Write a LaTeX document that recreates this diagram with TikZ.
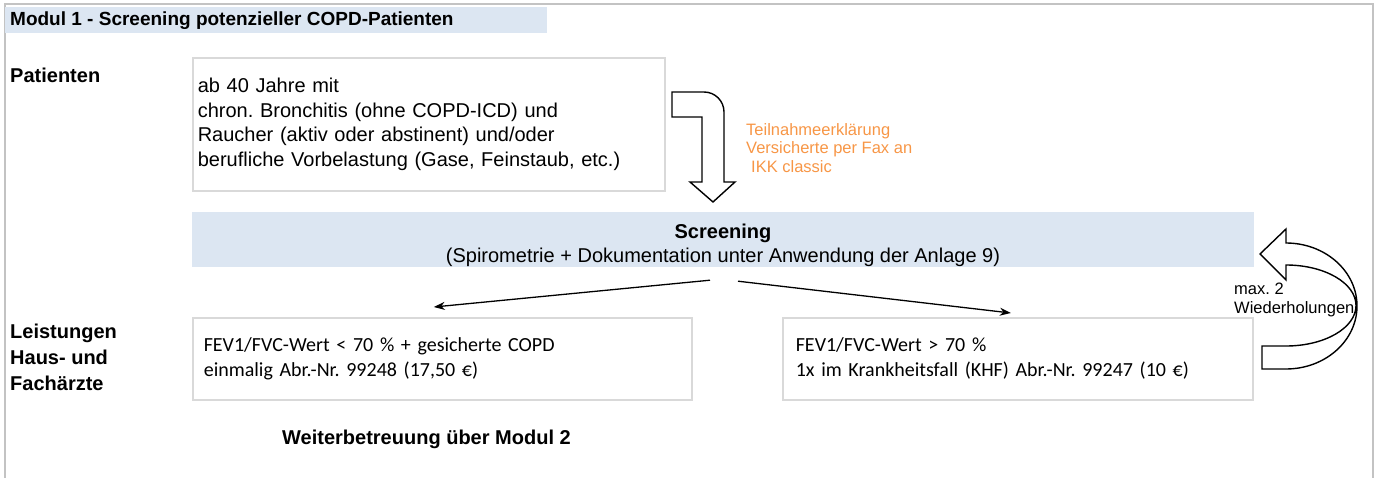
\documentclass[tikz,border=0pt]{standalone}
\usepackage{fontspec}
\setmainfont{Liberation Sans}
\newfontfamily\calibfont{Carlito}
\usetikzlibrary{arrows.meta}
\definecolor{bandblue}{HTML}{DCE6F2}
\definecolor{framegray}{HTML}{C3C3C3}
\definecolor{boxgray}{HTML}{D9D9D9}
\definecolor{orangetxt}{HTML}{F79646}
\frenchspacing
\begin{document}
\frenchspacing
\begin{tikzpicture}[x=1pt,y=-1pt,
  band/.style={fill=bandblue, draw=none, inner sep=0pt},
  txtnw/.style={anchor=north west, inner sep=0pt, align=left},
  txtb/.style={anchor=base west, inner sep=0pt},
  lbl/.style={font=\bfseries\fontsize{20}{26}\selectfont},
  body/.style={font=\fontsize{20}{24.5}\selectfont},
  fev/.style={font=\calibfont\fontsize{20}{25}\selectfont},
  small/.style={font=\fontsize{16.5}{18.6}\selectfont},
  infobox/.style={draw=boxgray, line width=1.6pt, fill=white, anchor=north west, align=left},
  conn/.style={line width=1.3pt, -{Stealth[length=11pt,width=8pt]}},
  blockarrow/.style={draw=black, line width=1.4pt, fill=white, line join=miter}
]
\useasboundingbox (0,0) rectangle (1378,478);
% frame
\draw[framegray, line width=2.5pt] (5,478) -- (5,4) -- (1373,4) -- (1373,478);
% header
\node[band, anchor=north west, minimum width=542pt, minimum height=26pt] (hdband) at (5,7) {};
\node[txtb, font=\bfseries\fontsize{19}{24}\selectfont] (hd) at (10,26) {Modul 1 - Screening potenzieller COPD-Patienten};
% left labels
\node[txtb, lbl] (patlbl) at (10,83) {Patienten};
\node[txtnw, lbl] (leistlbl) at (10,323.7) {Leistungen\\Haus- und\\Fachärzte};
% patient box
\node[infobox, body, text width=462pt, inner xsep=5pt, inner ysep=0pt, minimum height=133pt] (pat) at (192,57)
  {ab 40 Jahre mit\\chron. Bronchitis (ohne COPD-ICD) und\\Raucher (aktiv oder abstinent) und/oder\\berufliche Vorbelastung (Gase, Feinstaub, etc.)};
% bent block arrow
\draw[blockarrow] (672,92) -- (704,92) arc[start angle=90, end angle=0, radius=20pt]
  -- (724,182) -- (735,182) -- (713,202) -- (690,182) -- (702,182) -- (702,117) -- (672,117) -- cycle;
\node[txtnw, small, text=orangetxt] (teiln) at (746,123) {Teilnahmeerklärung\\Versicherte per Fax an\\\hspace*{5pt}IKK classic};
% screening band
\node[band, minimum width=1062pt, minimum height=55pt] (scr) at (723,239.5) {};
\node[anchor=north, inner sep=0pt, align=center, body] (scrtxt) at (723,223.5)
  {\textbf{Screening}\\(Spirometrie + Dokumentation unter Anwendung der Anlage 9)};
% result boxes
\node[infobox, fev, text width=477pt, minimum height=82pt, inner xsep=11pt, inner ysep=0pt] (fevl) at (192,317)
  {FEV1/FVC-Wert < 70 \% + gesicherte COPD\\einmalig Abr.-Nr. 99248 (17,50 €)};
\node[infobox, fev, text width=444pt, minimum height=82pt, inner xsep=13pt, inner ysep=0pt] (fevr) at (782,317)
  {FEV1/FVC-Wert > 70 \%\\1x im Krankheitsfall (KHF) Abr.-Nr. 99247 (10 €)};
% connectors
\draw[conn] ([xshift=-13pt,yshift=-13pt]scr.south) -- ([xshift=-8.5pt,yshift=10pt]fevl.north);
\draw[conn] ([xshift=15pt,yshift=-14pt]scr.south) -- ([xshift=-7pt,yshift=4pt]fevr.north);
% curved repeat arrow
\draw[blockarrow] (1286,243) arc[start angle=90, end angle=-90, x radius=71pt, y radius=63pt]
  -- (1262,369) -- (1262,346) -- (1286,346)
  arc[start angle=-90, end angle=90, x radius=70pt, y radius=40.5pt]
  -- (1286,280) -- (1260,254) -- (1286,229) -- cycle;
\node[txtnw, small] (maxw) at (1234,283) {max. 2\\Wiederholungen};
% follow-up
\node[txtb, lbl] (weiter) at (282,444) {Weiterbetreuung über Modul 2};
\end{tikzpicture}
\end{document}
